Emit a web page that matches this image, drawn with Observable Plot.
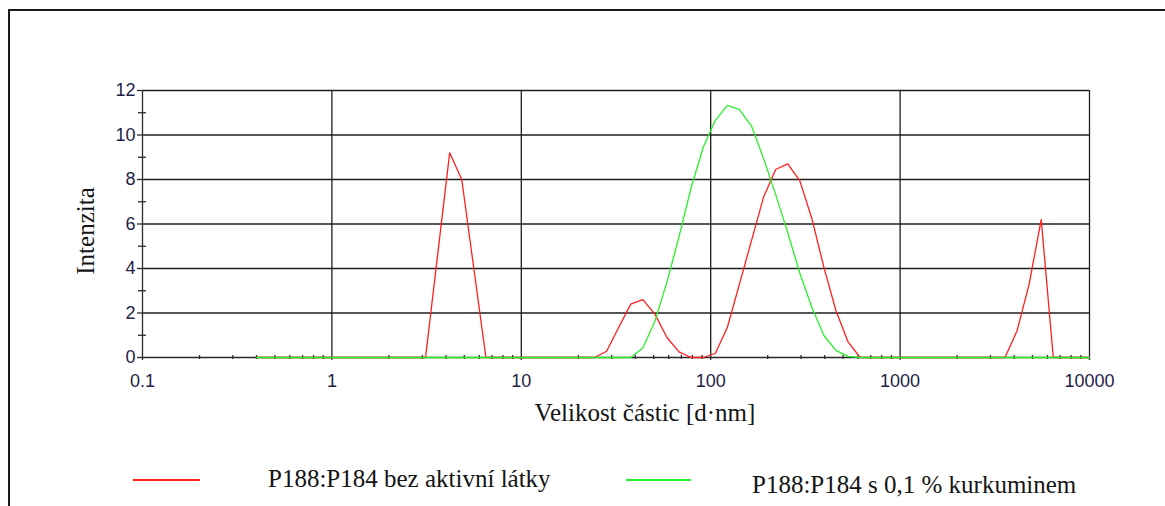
<!DOCTYPE html>
<html>
<head>
<meta charset="utf-8">
<script src="https://cdn.jsdelivr.net/npm/d3@7"></script>
<script src="https://cdn.jsdelivr.net/npm/@observablehq/plot@0.6"></script>
<style>
  html, body { margin: 0; padding: 0; background: #fff; }
  #wrap { position: relative; width: 1165px; height: 506px; overflow: hidden; background: #fff; }
  #chart { position: absolute; left: 0; top: 0; }
  .frame { position: absolute; left: 8px; top: 9px; width: 1300px; height: 700px;
           border-left: 2px solid #1a1a1a; border-top: 2px solid #1a1a1a; pointer-events: none; }
  .title { position: absolute; font-family: "Liberation Serif", "Times New Roman", serif; color: #141414;
           line-height: 1; white-space: nowrap; }
  .ytitle { left: 85px; top: 231px; font-size: 25px; transform: translate(-50%, -50%) rotate(-90deg); }
  .xtitle { left: 645px; top: 400px; font-size: 25px; transform: translateX(-50%); }
  .key-line { position: absolute; height: 2px; }
  .key-text { position: absolute; font-family: "Liberation Serif", "Times New Roman", serif; font-size: 25px;
              line-height: 1; color: #141414; white-space: nowrap; }
</style>
</head>
<body>
<div id="wrap">
  <div id="chart"></div>
  <div class="frame"></div>
  <div class="title ytitle">Intenzita</div>
  <div class="title xtitle">Velikost částic [d·nm]</div>
  <div id="legend"></div>
</div>
<script>
// Size classes of the DLS distribution (d·nm)
const sizes = [
  0.400, 0.463, 0.536, 0.621, 0.720, 0.833, 0.965, 1.117, 1.294, 1.499,
  1.736, 2.010, 2.328, 2.696, 3.122, 3.615, 4.187, 4.849, 5.615, 6.503,
  7.531, 8.721, 10.10, 11.70, 13.54, 15.69, 18.17, 21.04, 24.36, 28.21,
  32.67, 37.84, 43.82, 50.75, 58.77, 68.06, 78.82, 91.28, 105.7, 122.4,
  141.8, 164.2, 190.1, 220.2, 255.0, 295.3, 342.0, 396.1, 458.7, 531.2,
  615.1, 712.4, 825.0, 955.4, 1106, 1281, 1484, 1718, 1990, 2305,
  2669, 3091, 3580, 4145, 4801, 5560, 6439, 7456, 8635, 10000
];

// Intensity (%) – P188:P184 without active substance
const intensityBlank = [
  0, 0, 0, 0, 0, 0, 0, 0, 0, 0,
  0, 0, 0, 0, 0, 4.6, 9.2, 8.0, 4.0, 0,
  0, 0, 0, 0, 0, 0, 0, 0, 0, 0.28,
  1.35, 2.4, 2.6, 1.95, 0.9, 0.25, 0, 0, 0.18, 1.35,
  3.3, 5.25, 7.2, 8.45, 8.7, 7.95, 6.25, 4.05, 2.1, 0.7,
  0, 0, 0, 0, 0, 0, 0, 0, 0, 0,
  0, 0, 0, 1.2, 3.3, 6.2, 0, 0, 0, 0
];

// Intensity (%) – P188:P184 with 0.1 % curcumin
const intensityCurcumin = [
  0, 0, 0, 0, 0, 0, 0, 0, 0, 0,
  0, 0, 0, 0, 0, 0, 0, 0, 0, 0,
  0, 0, 0, 0, 0, 0, 0, 0, 0, 0,
  0, 0, 0.43, 1.63, 3.4, 5.43, 7.63, 9.45, 10.65, 11.33,
  11.14, 10.4, 8.95, 7.33, 5.62, 3.8, 2.26, 0.99, 0.32, 0.05,
  0, 0, 0, 0, 0, 0, 0, 0, 0, 0,
  0, 0, 0, 0, 0, 0, 0, 0, 0, 0
];

const seriesNames = ["P188:P184 bez aktivní látky", "P188:P184 s 0,1 % kurkuminem"];
const seriesColors = ["#ff1f1f", "#2bf02b"];

const yTicks = [0, 2, 4, 6, 8, 10, 12];
const yMinorTicks = [1, 3, 5, 7, 9, 11];
const xTicks = [0.1, 1, 10, 100, 1000, 10000];
const xTickLabels = ["0.1", "1", "10", "100", "1000", "10000"];
const xMinorTicks = [
  0.2, 0.3, 0.4, 0.5, 0.6, 0.7, 0.8, 0.9,
  2, 3, 4, 5, 6, 7, 8, 9,
  20, 30, 40, 50, 60, 70, 80, 90,
  200, 300, 400, 500, 600, 700, 800, 900,
  2000, 3000, 4000, 5000, 6000, 7000, 8000, 9000
];

const rows = sizes.map((s, i) => ({size: s, blank: intensityBlank[i], curcumin: intensityCurcumin[i]}));
const xLabel = new Map(xTicks.map((t, i) => [t, xTickLabels[i]]));

const gridStyle = {stroke: "#1e1e1e", strokeOpacity: 1, strokeWidth: 1.3};
const tickText = "#1e1e46";

const chart = Plot.plot({
  width: 1165,
  height: 455,
  marginLeft: 142,
  marginRight: 76,
  marginTop: 90,
  marginBottom: 98,
  x: {type: "log", domain: [0.1, 10000], label: null},
  y: {domain: [0, 12], label: null},
  style: {
    fontFamily: "'Liberation Sans', Arial, sans-serif",
    fontSize: "18px",
    color: "#222",
    background: "transparent",
    overflow: "visible"
  },
  marks: [
    Plot.gridY(yTicks.filter(v => v > 0), gridStyle),
    Plot.gridX(xTicks.filter(v => v > 0.1), gridStyle),
    Plot.ruleX([0.1], {stroke: "#2a2a2a", strokeWidth: 1.3}),
    Plot.ruleY([0], {stroke: "#2a2a2a", strokeWidth: 1.3}),
    Plot.axisY({ticks: yTicks, tickSize: 5, tickPadding: 2, tickFormat: d => String(d),
                fill: tickText, stroke: "#2a2a2a", strokeWidth: 1.3, label: null}),
    Plot.axisY({ticks: yMinorTicks, tickSize: 8, dx: 4, tickFormat: () => "",
                stroke: "#2a2a2a", strokeWidth: 1.3, label: null}),
    Plot.axisX({ticks: xTicks, tickSize: 3, tickPadding: 14, tickFormat: d => xLabel.get(d),
                fill: tickText, stroke: "#2a2a2a", strokeWidth: 1.3, label: null}),
    Plot.axisX({ticks: xMinorTicks, tickSize: 4, dy: -2, tickFormat: () => "",
                stroke: "#2a2a2a", strokeWidth: 1.3, label: null}),
    Plot.line(rows, {x: "size", y: "blank", stroke: seriesColors[0], strokeWidth: 1.3}),
    Plot.line(rows, {x: "size", y: "curcumin", stroke: seriesColors[1], strokeWidth: 1.3})
  ]
});
document.getElementById("chart").appendChild(chart);

// Legend below the plot
const legend = document.getElementById("legend");
const keyLayout = [
  {lineLeft: 133, lineWidth: 67, textLeft: 268, textTop: 466},
  {lineLeft: 626, lineWidth: 65, textLeft: 752, textTop: 472}
];
seriesNames.forEach((name, i) => {
  const k = keyLayout[i];
  const line = document.createElement("div");
  line.className = "key-line";
  line.style.left = k.lineLeft + "px";
  line.style.width = k.lineWidth + "px";
  line.style.top = "479px";
  line.style.background = seriesColors[i];
  legend.appendChild(line);
  const label = document.createElement("div");
  label.className = "key-text";
  label.style.left = k.textLeft + "px";
  label.style.top = k.textTop + "px";
  label.textContent = name;
  legend.appendChild(label);
});
</script>
</body>
</html>
